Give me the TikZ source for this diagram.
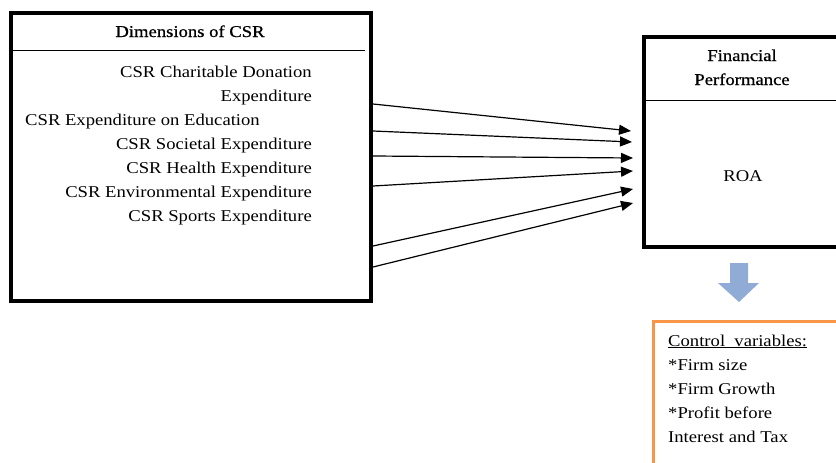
\documentclass[tikz,border=0pt]{standalone}
\usepackage{fontspec}
\setmainfont[FakeStretch=1.13]{Liberation Serif}
\newfontfamily\semibold[FakeStretch=1.13,FakeBold=0.8]{Liberation Serif}
\usetikzlibrary{arrows.meta}
\definecolor{blockblue}{RGB}{143,171,214}
\definecolor{ctrlorange}{RGB}{247,150,70}
\begin{document}
\begin{tikzpicture}[x=1pt,y=-1pt,
  font=\fontsize{16.5}{24}\selectfont,
  frame/.style={draw=black, line width=3.2pt},
  rule/.style={draw=black, line width=1pt},
  txt/.style={inner sep=0pt},
  rtxt/.style={inner sep=0pt, anchor=base east},
  ltxt/.style={inner sep=0pt, anchor=base west},
  link/.style={-{Triangle[length=12pt,width=10pt]}, line width=1.2pt}]
\clip (0,0) rectangle (836,463);
\useasboundingbox (0,0) rectangle (836,463);

% left box
\draw[frame] (11,13) rectangle (371,301);
\draw[rule] (12,50) -- (365,50);
\node[txt, anchor=base] (title) at (190,37) {\semibold Dimensions of CSR};
\node[rtxt] (d1) at (312,77) {CSR Charitable Donation};
\node[rtxt] (d1b) at (312,101) {Expenditure};
\node[ltxt] (d2) at (25,125) {CSR Expenditure on Education};
\node[rtxt] (d3) at (312,149) {CSR Societal Expenditure};
\node[rtxt] (d4) at (312,173) {CSR Health Expenditure};
\node[rtxt] (d5) at (312,197) {CSR Environmental Expenditure};
\node[rtxt] (d6) at (312,221) {CSR Sports Expenditure};

% right box
\draw[frame] (644,37) rectangle (860,247);
\draw[rule] (645,100) -- (860,100);
\node[txt, anchor=base] (fp1) at (742,61) {\semibold Financial};
\node[txt, anchor=base] (fp2) at (742,85) {\semibold Performance};
\node[txt, anchor=base] (roa) at (743,181) {ROA};

% connectors
\coordinate (s1) at (373,104); \coordinate (t1) at (631,131);
\coordinate (s2) at (373,131); \coordinate (t2) at (632,142);
\coordinate (s3) at (373,156); \coordinate (t3) at (633,158);
\coordinate (s4) at (373,186); \coordinate (t4) at (633,171);
\coordinate (s5) at (373,246); \coordinate (t5) at (633,189);
\coordinate (s6) at (373,267); \coordinate (t6) at (633,203);
\foreach \i in {1,...,6} \draw[link] (s\i) -- (t\i);

% block arrow
\fill[blockblue] (730,263) -- (748,263) -- (748,283) -- (759,283) -- (739,302)
  -- (718,283) -- (730,283) -- cycle;

% control variables box
\draw[ctrlorange, line width=3pt] (653,321) rectangle (870,490);
\node[ltxt] (cv) at (668,346) {\underline{Control\ \ variables:}};
\node[ltxt] (c1) at (668,370) {*Firm size};
\node[ltxt] (c2) at (668,394) {*Firm Growth};
\node[ltxt] (c3) at (668,418) {*Profit before};
\node[ltxt] (c4) at (668,442) {Interest and Tax};
\end{tikzpicture}
\end{document}
